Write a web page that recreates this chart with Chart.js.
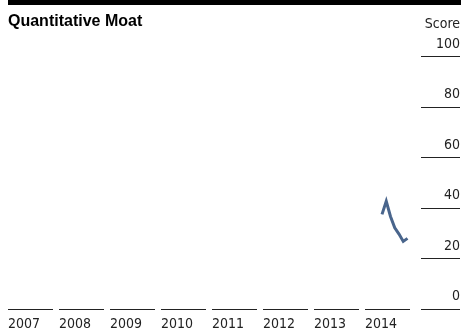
<!DOCTYPE html>
<html>
<head>
<meta charset="utf-8">
<script src="https://cdn.jsdelivr.net/npm/chart.js@4.4.1/dist/chart.umd.min.js"></script>
<style>
  html, body { margin: 0; padding: 0; background: #fff; }
  #wrap { width: 461px; height: 330px; }
</style>
</head>
<body>
<div id="wrap"><canvas id="moatChart" width="461" height="330"></canvas></div>
<script>
// --- data ---
var years = [2007, 2008, 2009, 2010, 2011, 2012, 2013, 2014];
var pointMonths = [4, 5, 6, 7, 8, 9, 10];          // months into 2014
var moatScores = [37.3, 42.5, 36.5, 32.0, 29.5, 26.6, 27.8];
var scoreTicks = [0, 20, 40, 60, 80, 100];
var scoreLabel = 'Score';
var chartTitle = 'Quantitative Moat';

var narrow = "'DejaVu Sans Condensed', 'Liberation Sans', sans-serif";
var lastYear = years[years.length - 1] + 1;

var points = pointMonths.map(function (m, i) {
    return { x: 2014 + m / 12, y: moatScores[i] };
});

// short underline segments under each axis label, plus the top rule
var decorPlugin = {
    id: 'decor',
    afterDraw: function (chart) {
        var ctx = chart.ctx;
        var area = chart.chartArea;
        var xs = chart.scales.x;
        var ys = chart.scales.y;
        ctx.save();
        ctx.fillStyle = '#000';
        ctx.fillRect(8, 0, chart.width - 8, 5);

        ctx.strokeStyle = '#222';
        ctx.lineWidth = 1;
        var base = Math.round(ys.getPixelForValue(0)) + 0.5;
        years.forEach(function (yr) {
            ctx.beginPath();
            ctx.moveTo(xs.getPixelForValue(yr), base);
            ctx.lineTo(xs.getPixelForValue(yr + 1) - 6, base);
            ctx.stroke();
        });
        scoreTicks.forEach(function (v) {
            var py = Math.round(ys.getPixelForValue(v)) + 0.5;
            ctx.beginPath();
            ctx.moveTo(area.right + 5, py);
            ctx.lineTo(chart.width - 1, py);
            ctx.stroke();
        });

        ctx.fillStyle = '#222';
        ctx.font = '14px ' + narrow;
        ctx.textAlign = 'right';
        ctx.textBaseline = 'middle';
        ctx.fillText(scoreLabel, chart.width - 1, 24.5);
        ctx.restore();
    }
};

new Chart(document.getElementById('moatChart'), {
    type: 'line',
    data: {
        datasets: [{
            data: points,
            borderColor: '#49658c',
            borderWidth: 3,
            pointRadius: 0,
            tension: 0,
            fill: false
        }]
    },
    options: {
        responsive: false,
        animation: false,
        layout: { padding: { left: 8, top: 0, right: 0, bottom: 0 } },
        plugins: {
            legend: { display: false },
            tooltip: { enabled: false },
            title: {
                display: true,
                text: chartTitle,
                align: 'start',
                color: '#000',
                font: { family: "'Liberation Sans', Arial, sans-serif", size: 16, weight: 'bold' },
                padding: { top: 12, bottom: 25 }
            }
        },
        scales: {
            x: {
                type: 'linear',
                min: years[0],
                max: lastYear,
                grid: { display: false, drawTicks: false },
                border: { display: false },
                afterFit: function (s) { s.height = 21.5; },
                ticks: {
                    stepSize: 1,
                    autoSkip: false,
                    maxRotation: 0,
                    align: 'start',
                    padding: 7,
                    color: '#222',
                    font: { family: narrow, size: 14 },
                    callback: function (v) { return v === lastYear ? '' : String(v); }
                }
            },
            y: {
                position: 'right',
                min: 0,
                max: 100,
                grid: { display: false, drawTicks: false },
                border: { display: false },
                afterFit: function (s) {
                    s.width = 45;
                    s.paddingTop = 0;
                    s.paddingBottom = 0;
                },
                ticks: {
                    stepSize: 20,
                    mirror: true,
                    padding: 44,
                    labelOffset: -12,
                    color: '#222',
                    font: { family: narrow, size: 14 },
                    callback: function (v) { return String(v); }
                }
            }
        }
    },
    plugins: [decorPlugin]
});
</script>
</body>
</html>
